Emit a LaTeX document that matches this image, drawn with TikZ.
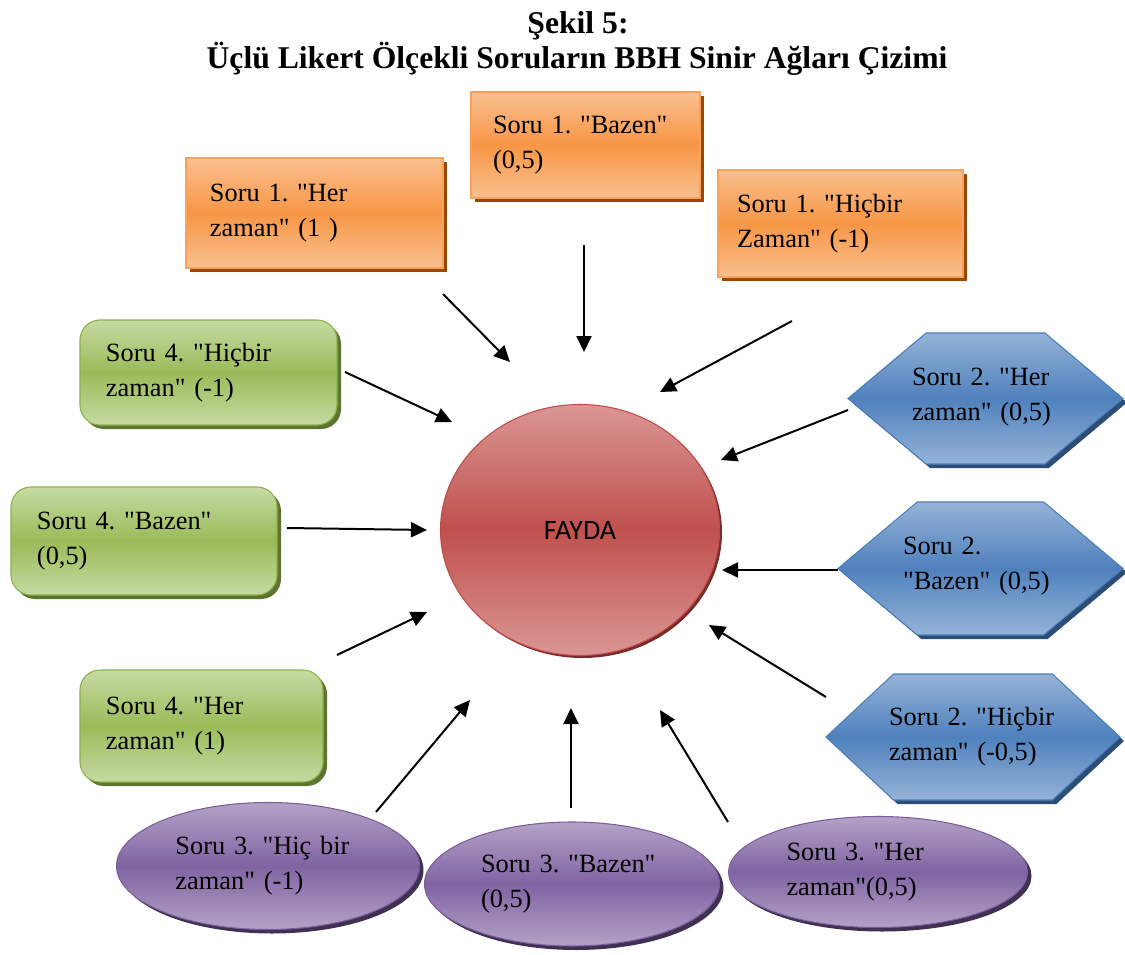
\documentclass[tikz,border=0pt]{standalone}
\usepackage{fontspec}
\setmainfont{Liberation Serif}
\newfontfamily\soruyazi{Liberation Serif}
\newfontfamily\faydafont{Carlito}
\usetikzlibrary{arrows.meta,shapes.geometric,shapes.symbols,shadows}

\definecolor{turuncuacik}{HTML}{FAC08F}
\definecolor{turuncu}{HTML}{F79646}
\definecolor{turuncucizgi}{HTML}{F9A25E}
\definecolor{turuncugolge}{HTML}{984807}
\definecolor{yesilacik}{HTML}{C6DAA2}
\definecolor{yesil}{HTML}{9BBB59}
\definecolor{yesilcizgi}{HTML}{8EB04A}
\definecolor{yesilgolge}{HTML}{5E7431}
\definecolor{maviacik}{HTML}{95B3D7}
\definecolor{mavi}{HTML}{4F81BD}
\definecolor{mavicizgi}{HTML}{4A7EBB}
\definecolor{mavigolge}{HTML}{2C4D75}
\definecolor{moracik}{HTML}{B3A2C7}
\definecolor{mor}{HTML}{8064A2}
\definecolor{morcizgi}{HTML}{7A5E9C}
\definecolor{morgolge}{HTML}{403152}
\definecolor{kirmiziacik}{HTML}{DA9694}
\definecolor{kirmizi}{HTML}{C0504D}
\definecolor{kirmizicizgi}{HTML}{BE4B48}
\definecolor{kirmizigolge}{HTML}{772C2A}

\frenchspacing
\begin{document}
\begin{tikzpicture}
[
    x=0.2mm, y=-0.2mm,
    soru/.style={font=\soruyazi\fontsize{15}{20}\selectfont, align=left, line width=0.6pt},
    golge/.style={drop shadow={fill=#1, opacity=1, shadow xshift=0.8mm, shadow yshift=-0.8mm}},
    kutu1/.style={soru, rectangle, golge=turuncugolge, draw=turuncucizgi,
        top color=turuncuacik, bottom color=turuncuacik, middle color=turuncu},
    kutu4/.style={soru, rectangle, rounded corners=4mm, golge=yesilgolge, draw=yesilcizgi,
        top color=yesilacik, bottom color=yesilacik, middle color=yesil},
    altigen/.style={signal, signal to=east and west, signal pointer angle=80,
        line width=0.6pt, inner sep=0pt, golge=mavigolge, draw=mavicizgi,
        top color=maviacik, bottom color=maviacik, middle color=mavi},
    elips/.style={soru, ellipse, golge=morgolge, draw=morcizgi,
        top color=moracik, bottom color=moracik, middle color=mor},
    ok/.style={line width=0.4mm, -{Triangle[length=3.2mm,width=3mm]}},
]
\useasboundingbox (0,0) rectangle (1125,955);

% baslik
\node[anchor=base, font=\bfseries\fontsize{18}{20}\selectfont] (baslik1) at (578,33) {Şekil 5:};
\node[anchor=base, font=\bfseries\fontsize{18}{20}\selectfont] (baslik2) at (577,68)
    {Üçlü Likert Ölçekli Soruların BBH Sinir Ağları Çizimi};

% merkez
\node[ellipse, minimum width=55.8mm, minimum height=50.2mm, draw=kirmizicizgi, line width=0.6pt,
    top color=kirmiziacik, bottom color=kirmiziacik, middle color=kirmizi,
    drop shadow={fill=kirmizigolge, opacity=1, shadow xshift=0.5mm, shadow yshift=-0.5mm},
    font=\faydafont\fontsize{16}{18}\selectfont] (fayda) at (580,530) {FAYDA};

% soru 1
\node[kutu1, text width=41.8mm, inner xsep=4.8mm, minimum height=22mm] (s1her) at (314.5,213)
    {Soru 1. "Her\\zaman" (1 )};
\node[kutu1, text width=37mm, inner xsep=4.4mm, minimum height=21.2mm] (s1bazen) at (585.5,145)
    {Soru 1. "Bazen"\\(0,5)};
\node[kutu1, text width=41.4mm, inner xsep=3.8mm, minimum height=21.4mm] (s1hicbir) at (840.5,223.5)
    {Soru 1. "Hiçbir\\Zaman" (-1)};

% soru 4
\node[kutu4, text width=41mm, inner xsep=5.2mm, minimum height=21mm] (s4hicbir) at (208.5,372.5)
    {Soru 4. "Hiçbir\\zaman" (-1)};
\node[kutu4, text width=42.8mm, inner xsep=5.2mm, minimum height=21.6mm] (s4bazen) at (144,541)
    {Soru 4. "Bazen"\\(0,5)};
\node[kutu4, text width=38.2mm, inner xsep=5.2mm, minimum height=22.4mm] (s4her) at (201.5,726)
    {Soru 4. "Her\\zaman" (1)};

% soru 2
\node[altigen, minimum width=55mm, minimum height=26.2mm] (s2her) at (985.5,398.5) {};
\node[soru, text width=30mm, inner sep=0pt] (s2her-yazi) at (987,397)
    {Soru 2. "Her\\zaman" (0,5)};
\node[altigen, minimum width=57mm, minimum height=26.6mm] (s2bazen) at (980.5,568.5) {};
\node[soru, text width=31.6mm, inner sep=0pt] (s2bazen-yazi) at (982,566)
    {Soru 2.\\"Bazen" (0,5)};
\node[altigen, signal pointer angle=86, minimum width=58.8mm, minimum height=25.2mm]
    (s2hicbir) at (973,737) {};
\node[soru, text width=34mm, inner sep=0pt] (s2hicbir-yazi) at (974,737)
    {Soru 2. "Hiçbir\\zaman" (-0,5)};

% soru 3
\node[elips, text width=37mm, minimum width=60.6mm, minimum height=25.4mm] (s3hicbir) at (268,866)
    {Soru 3. "Hiç bir\\zaman" (-1)};
\node[elips, text width=36.4mm, minimum width=59mm, minimum height=24.8mm] (s3bazen) at (572,884)
    {Soru 3. "Bazen"\\(0,5)};
\node[elips, text width=36.6mm, minimum width=59.8mm, minimum height=22.2mm] (s3her) at (878,872)
    {Soru 3. "Her\\zaman"(0,5)};

% ok uclari
\coordinate (s1her-a) at (443,294);   \coordinate (s1her-b) at (510,362);
\coordinate (s1bazen-a) at (584,245); \coordinate (s1bazen-b) at (584,352);
\coordinate (s1hicbir-a) at (792,321);\coordinate (s1hicbir-b) at (660,392);
\coordinate (s4hicbir-a) at (345,372);\coordinate (s4hicbir-b) at (452,422);
\coordinate (s4bazen-a) at (287,528); \coordinate (s4bazen-b) at (427,530);
\coordinate (s4her-a) at (337,655);   \coordinate (s4her-b) at (427,612);
\coordinate (s3hicbir-a) at (376,812);\coordinate (s3hicbir-b) at (470,700);
\coordinate (s3bazen-a) at (571,808); \coordinate (s3bazen-b) at (571,708);
\coordinate (s3her-a) at (728,822);   \coordinate (s3her-b) at (660,710);
\coordinate (s2hicbir-a) at (826,697);\coordinate (s2hicbir-b) at (709,625);
\coordinate (s2bazen-a) at (838,570); \coordinate (s2bazen-b) at (722,570);
\coordinate (s2her-a) at (848,410);   \coordinate (s2her-b) at (721,460);

\foreach \s in {s1her,s1bazen,s1hicbir,s4hicbir,s4bazen,s4her,s3hicbir,s3bazen,s3her,s2hicbir,s2bazen,s2her}
    \draw[ok] (\s-a) -- (\s-b);
\end{tikzpicture}
\end{document}
